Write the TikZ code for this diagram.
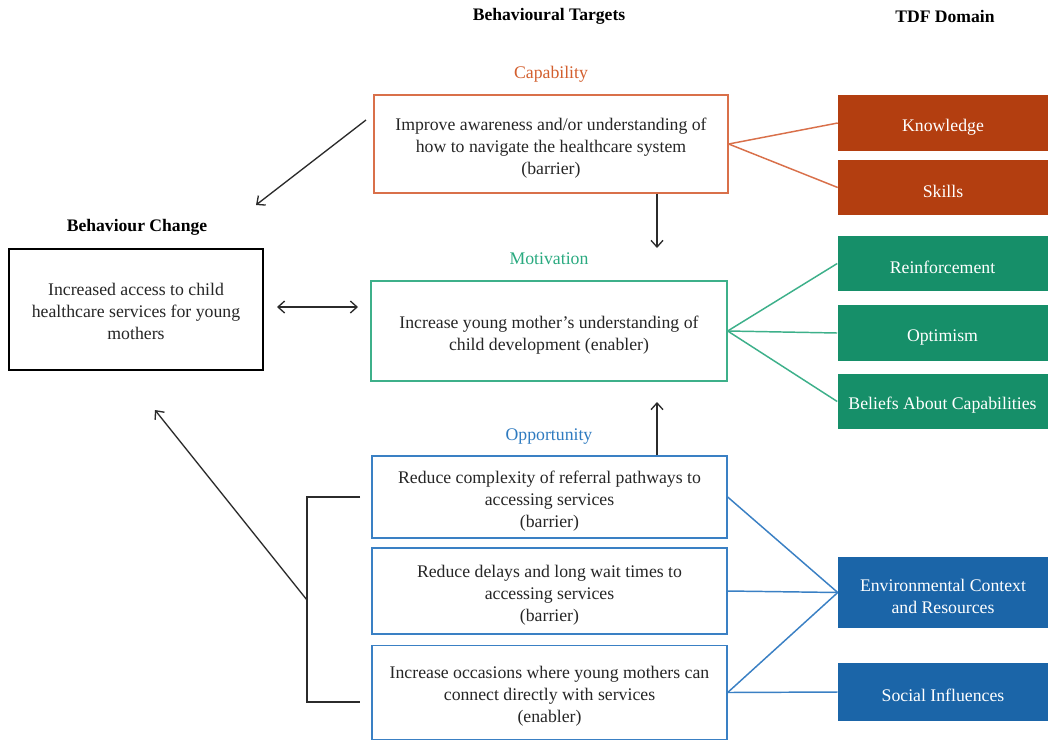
\documentclass[tikz,border=0pt]{standalone}
\usepackage{fontspec}
\setmainfont{Liberation Serif}
\usetikzlibrary{arrows.meta}
\definecolor{captxt}{HTML}{D35F2E}
\definecolor{capline}{HTML}{D9704A}
\definecolor{capfill}{HTML}{B33E10}
\definecolor{mottxt}{HTML}{2AAA80}
\definecolor{motline}{HTML}{3DB08A}
\definecolor{motfill}{HTML}{168F69}
\definecolor{opptxt}{HTML}{2F7BC0}
\definecolor{oppline}{HTML}{3A80C4}
\definecolor{oppfill}{HTML}{1B65A8}
\definecolor{arr}{HTML}{2B2B2B}
\begin{document}
\begin{tikzpicture}[x=0.75pt,y=-0.75pt,
  every node/.style={font=\fontsize{13.3}{16.5}\selectfont, inner sep=0pt},
  one/.style={text height=15pt},
  two/.style={text height=31.5pt},
  three/.style={text height=48pt},
  tbox/.style={draw, line width=1pt, fill=white, align=center, text=black!85},
  tdf/.style={rectangle, text=white, align=center, minimum width=157.5pt},
  head/.style={font=\fontsize{13.2}{16}\selectfont\bfseries},
  conn/.style={line width=1.1pt},
  arrw/.style={draw=arr, line width=1pt, -{Straight Barb[length=5pt,width=9pt]}},
  darrw/.style={draw=arr, line width=1pt, {Straight Barb[length=5pt,width=9pt]}-{Straight Barb[length=5pt,width=9pt]}}
]
\useasboundingbox (0,0) rectangle (1050,740);
\fill[white] (0,0) rectangle (1050,740);

% headers
\node[head] (hbt) at (549,16) {Behavioural Targets};
\node[head] (htdf) at (945,16) {TDF Domain};
\node[head] (hbc) at (137,227) {Behaviour Change};

% category labels
\node[text=captxt] (lcap) at (551,74) {Capability};
\node[text=mottxt] (lmot) at (549,259) {Motivation};
\node[text=opptxt] (lopp) at (549,437) {Opportunity};

% behaviour change box
\node[tbox, draw=black, minimum width=190.5pt, minimum height=90.75pt, text height=45pt] (bc) at (136,309.5)
  {Increased access to child\\healthcare services for young\\mothers};

% capability
\node[tbox, three, draw=capline, minimum width=265.5pt, minimum height=73.5pt] (cap) at (551,144)
  {Improve awareness and/or understanding of\\how to navigate the healthcare system\\(barrier)};
\node[tdf, one, fill=capfill, minimum height=42pt] (know) at (943,123) {Knowledge};
\node[tdf, one, fill=capfill, minimum height=41.25pt] (skill) at (943,187.5) {Skills};

% motivation
\node[tbox, two, draw=motline, minimum width=267pt, minimum height=75pt] (mot) at (549,331)
  {Increase young mother's understanding of\\child development (enabler)};
\node[tdf, one, fill=motfill, minimum height=41.25pt] (reinf) at (942.5,263.5) {Reinforcement};
\node[tdf, one, fill=motfill, minimum height=42pt] (optim) at (942.5,333) {Optimism};
\node[tdf, one, fill=motfill, minimum height=41.25pt] (belief) at (942.5,401.5) {Beliefs About Capabilities};

% opportunity
\node[tbox, three, draw=oppline, minimum width=266.25pt, minimum height=61.5pt] (opp1) at (549.5,497)
  {Reduce complexity of referral pathways to\\accessing services\\(barrier)};
\node[tbox, three, draw=oppline, minimum width=266.25pt, minimum height=64.5pt] (opp2) at (549.5,591)
  {Reduce delays and long wait times to\\accessing services\\(barrier)};
\node[tbox, three, draw=oppline, minimum width=266.25pt, minimum height=70.5pt] (opp3) at (549.5,692.5)
  {Increase occasions where young mothers can\\connect directly with services\\(enabler)};
\node[tdf, two, fill=oppfill, minimum height=53.25pt] (env) at (943,592.5) {Environmental Context\\and Resources};
\node[tdf, one, fill=oppfill, minimum height=43.5pt] (soc) at (943,692) {Social Influences};

% TDF connectors
\draw[conn, capline] (cap.east) -- (know.west);
\draw[conn, capline] (cap.east) -- (skill.west);
\draw[conn, motline] (mot.east) -- (reinf.west);
\draw[conn, motline] (mot.east) -- (optim.west);
\draw[conn, motline] (mot.east) -- (belief.west);
\draw[conn, oppline] (opp1.east) -- (env.west);
\draw[conn, oppline] (opp2.east) -- (env.west);
\draw[conn, oppline] (opp3.east) -- (env.west);
\draw[conn, oppline] (opp3.east) -- (soc.west);

% vertical arrows
\draw[arrw] (cap.south -| 657,0) -- (657,248);
\draw[arrw] (opp1.north -| 657,0) -- (657,402);

% capability to behaviour change
\coordinate (c1) at (366,120);
\coordinate (c2) at (256,205);
\draw[arrw] (c1) -- (c2);

% double arrow
\coordinate (d1) at (277,307);
\coordinate (d2) at (358,307);
\draw[darrw] (d1) -- (d2);

% bracket
\coordinate (b1) at (360,497);
\coordinate (b2) at (307,497);
\coordinate (b3) at (307,702);
\coordinate (b4) at (360,702);
\coordinate (bm) at (307,600);
\coordinate (bt) at (155,410);
\draw[draw=arr, line width=1pt] (b1) -- (b2) -- (b3) -- (b4);
\draw[arrw] (bm) -- (bt);
\end{tikzpicture}
\end{document}
